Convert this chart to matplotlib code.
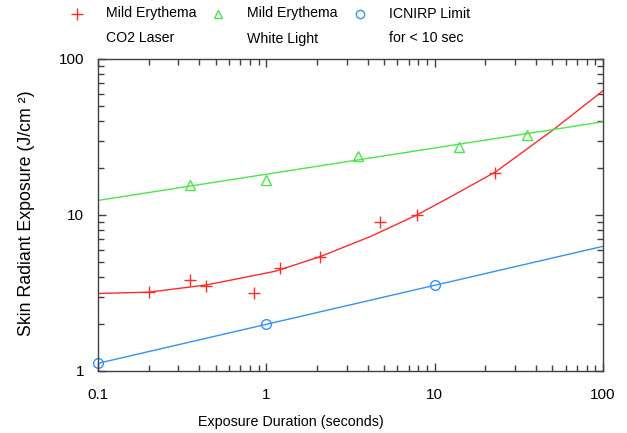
import matplotlib
matplotlib.use('Agg')
import matplotlib.pyplot as plt
from matplotlib.lines import Line2D
from matplotlib.ticker import LogLocator, NullFormatter, FixedLocator, FixedFormatter

plt.rcParams['font.family'] = ['Liberation Sans', 'DejaVu Sans']

# measured points
co2_t = [0.2, 0.35, 0.44, 0.845, 1.21, 2.07, 4.74, 7.8, 22.9]
co2_e = [3.2, 3.83, 3.51, 3.15, 4.55, 5.4, 9.0, 10.0, 18.7]
white_t = [0.35, 1.0, 3.52, 14.0, 35.4]
white_e = [15.6, 16.8, 24.0, 27.2, 32.6]
icnirp_t = [0.1, 1.0, 10.0]
icnirp_e = [1.12, 2.0, 3.56]

# fitted curves
co2_fit_t = [0.1, 0.2, 0.44, 1.13, 2.08, 4.13, 7.83, 12.3, 23.0, 50.5, 100]
co2_fit_e = [3.14, 3.2, 3.56, 4.36, 5.4, 7.26, 10.0, 13.0, 18.9, 35.1, 62.6]
white_fit_t = [0.1, 100]
white_fit_e = [12.4, 39.6]
icnirp_fit_t = [0.1, 100]
icnirp_fit_e = [1.12, 6.3]

red = '#ff2a2a'
green = '#48e848'
blue = '#3592f5'

fig = plt.figure(figsize=(6.27, 4.33), dpi=100)
ax = fig.add_axes([98 / 627, 62 / 433, 505 / 627, 312 / 433])
ax.set_xscale('log')
ax.set_yscale('log')
ax.set_xlim(0.1, 100)
ax.set_ylim(1, 100)

ax.plot(co2_fit_t, co2_fit_e, color=red, lw=1)
ax.plot(white_fit_t, white_fit_e, color=green, lw=1)
ax.plot(icnirp_fit_t, icnirp_fit_e, color=blue, lw=1)

ax.plot(co2_t, co2_e, ls='none', marker='+', ms=8, mew=1, color=red, clip_on=False)
ax.plot(white_t, white_e, ls='none', marker='^', ms=7, mew=1, mfc='none', mec=green, clip_on=False)
ax.plot(icnirp_t, icnirp_e, ls='none', marker='o', ms=7, mew=1, mfc='none', mec=blue, clip_on=False)

for s in ax.spines.values():
    s.set_color('#404040')
    s.set_linewidth(1)

ax.xaxis.set_major_locator(FixedLocator([0.1, 1, 10, 100]))
ax.xaxis.set_major_formatter(FixedFormatter(['0.1', '1', '10', '100']))
ax.yaxis.set_major_locator(FixedLocator([1, 10, 100]))
ax.yaxis.set_major_formatter(FixedFormatter(['1', '10', '100']))
ax.xaxis.set_minor_locator(LogLocator(base=10, subs=range(2, 10)))
ax.yaxis.set_minor_locator(LogLocator(base=10, subs=range(2, 10)))
ax.xaxis.set_minor_formatter(NullFormatter())
ax.yaxis.set_minor_formatter(NullFormatter())
ax.tick_params(which='both', direction='in', top=True, right=True, color='#404040', width=1)
ax.tick_params(which='major', length=6)
ax.tick_params(which='minor', length=4)
ax.tick_params(axis='x', which='major', pad=12, labelsize=11)
ax.tick_params(axis='y', which='major', pad=10, labelsize=11)

fig.text(291 / 627, 1 - 422 / 433, 'Exposure Duration (seconds)', ha='center', va='center', fontsize=10.3)
fig.text(27 / 627, 1 - 213 / 433, 'Skin Radiant Exposure (J/cm \u00b2)', ha='center', va='center',
         rotation=90, fontsize=12.8)

# legend
legend_items = [
    ('+', red, 'Mild Erythema\nCO2 Laser', 77, 106),
    ('^', green, 'Mild Erythema\nWhite Light', 218, 247),
    ('o', blue, 'ICNIRP Limit\nfor < 10 sec', 360, 389),
]
for mk, col, label, mx, tx in legend_items:
    if mk == '+':
        fig.add_artist(Line2D([mx / 627], [1 - 14 / 433], marker=mk, ms=8, mew=1, color=col, ls='none'))
    else:
        fig.add_artist(Line2D([mx / 627], [1 - 14 / 433], marker=mk, ms=6, mew=1, mfc='none', mec=col, ls='none'))
    fig.text(tx / 627, 1 - 26 / 433, label, ha='left', va='center', fontsize=10.2, linespacing=2.0)

fig.savefig('out.png', dpi=100)
